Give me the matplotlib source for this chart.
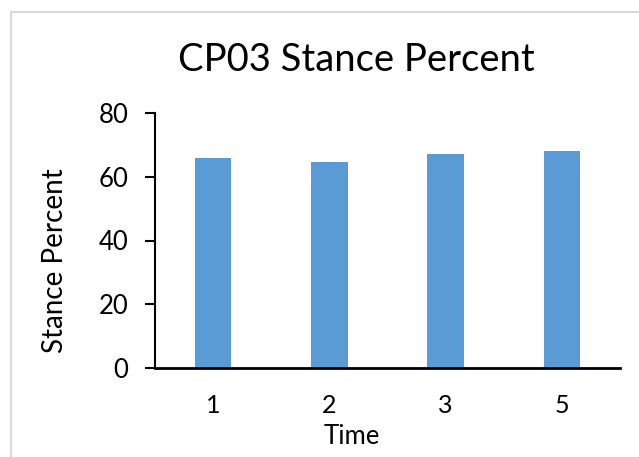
import matplotlib.pyplot as plt
from matplotlib.patches import Rectangle

times = ['1', '2', '3', '5']
stance = [65.8, 64.6, 67.2, 68.1]

plt.rcParams['font.family'] = ['Lato', 'DejaVu Sans']

fig = plt.figure(figsize=(6.39, 4.57), dpi=100)
ax = fig.add_axes([155/639, 1-368/457, 465/639, 255/457])

ax.bar(range(len(times)), stance, width=0.315, color='#5B9BD5')
ax.set_xlim(-0.5, 3.5)
ax.set_ylim(0, 80)
ax.set_yticks([0, 20, 40, 60, 80])
ax.set_xticks(range(len(times)))
ax.set_xticklabels(times)

for s in ['top', 'right']:
    ax.spines[s].set_visible(False)
ax.spines['left'].set_linewidth(1.5)
ax.spines['bottom'].set_linewidth(2)
ax.tick_params(axis='y', length=7, width=1.5, pad=12, labelsize=18.5)
ax.tick_params(axis='x', length=0, pad=19, labelsize=18)

ax.set_xlabel('Time', fontsize=18.5)
ax.xaxis.set_label_coords(0.424, -0.22)
ax.set_ylabel('Stance Percent', fontsize=20)
ax.yaxis.set_label_coords(-0.187, 0.42)

fig.text(356/639, 1-60/457, 'CP03 Stance Percent', ha='center', va='center', fontsize=27.5)

# light gray chart border
fig.patches.append(Rectangle((11/639, -0.1), 1.2, 1.1 - 12/457, transform=fig.transFigure,
                             fill=False, edgecolor='#D9D9D9', linewidth=1.5))

plt.savefig('out.png', dpi=100)
